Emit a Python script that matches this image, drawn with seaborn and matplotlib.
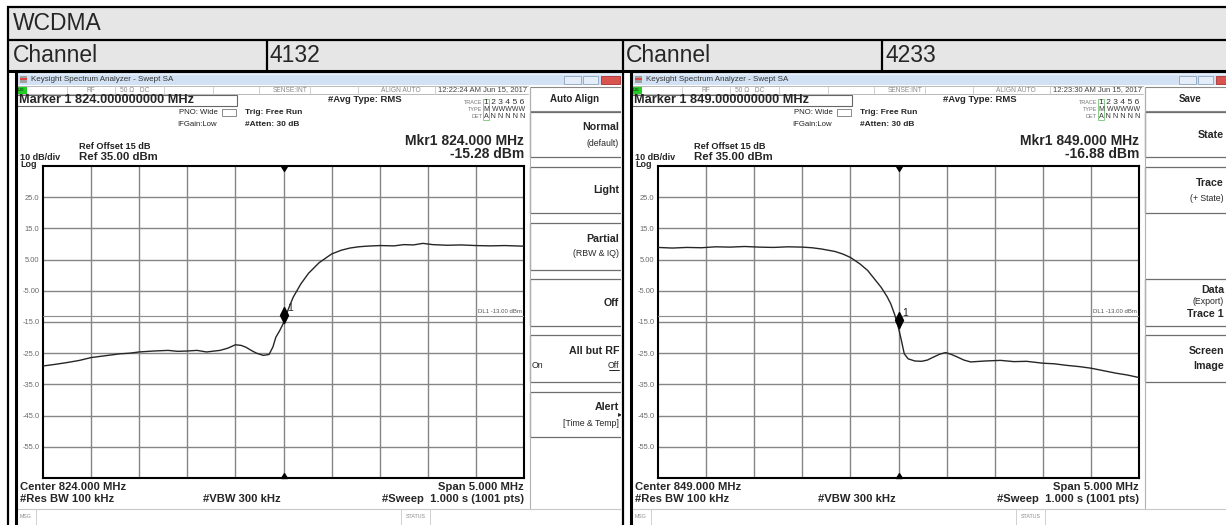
import matplotlib
matplotlib.use("Agg")
import matplotlib.pyplot as plt
import seaborn as sns
from matplotlib.patches import Rectangle
from matplotlib.lines import Line2D
from matplotlib.path import Path
from matplotlib.transforms import Bbox, TransformedBbox

W, H = 1226, 525

# ---- data ----
table_title = "WCDMA"
channel_label = "Channel"
channels = ["4132", "4233"]
center_freqs = [824.0, 849.0]
marker_levels = [-15.28, -16.88]
timestamps = ["12:22:24 AM Jun 15, 2017", "12:23:30 AM Jun 15, 2017"]
span_mhz = 5.0
ref_level = 35.0
bottom_level = -65.0
display_line = -13.0

trace1_freq = [821.50, 821.62, 821.75, 821.88, 822.00, 822.15, 822.30, 822.40, 822.50,
               822.65, 822.80, 822.90, 823.00, 823.10, 823.20, 823.34, 823.42, 823.50,
               823.56, 823.61, 823.67, 823.72, 823.79, 823.85, 823.89, 823.92, 823.96,
               824.00, 824.05, 824.10, 824.18, 824.26, 824.37, 824.50, 824.60, 824.69,
               824.78, 824.86, 825.00, 825.15, 825.25, 825.35, 825.45, 825.55, 825.70,
               825.85, 826.00, 826.15, 826.30, 826.50]
trace1_level = [-29.1, -28.6, -28.0, -27.3, -26.4, -25.8, -25.2, -25.0, -24.6,
                -24.3, -24.1, -24.4, -24.3, -24.1, -24.6, -24.1, -23.4, -22.3,
                -22.5, -23.1, -24.2, -25.0, -25.7, -25.4, -23.0, -19.9, -17.8,
                -15.3, -10.9, -7.1, -2.8, 0.6, 4.0, 6.8, 8.0, 8.7,
                9.1, 9.3, 9.5, 9.4, 9.8, 9.7, 10.2, 9.8, 9.6,
                9.7, 9.5, 9.4, 9.5, 9.3]

trace2_freq = [846.50, 846.65, 846.80, 846.95, 847.10, 847.25, 847.40, 847.55, 847.70,
               847.85, 848.00, 848.10, 848.20, 848.34, 848.42, 848.50, 848.60, 848.68,
               848.75, 848.82, 848.88, 848.92, 848.96, 849.00, 849.03, 849.06, 849.10,
               849.17, 849.24, 849.30, 849.36, 849.43, 849.49, 849.55, 849.61, 849.68,
               849.75, 849.90, 850.06, 850.20, 850.33, 850.50, 850.62, 850.75, 850.88,
               851.00, 851.13, 851.26, 851.38, 851.50]
trace2_level = [8.9, 8.7, 8.9, 8.8, 9.1, 9.0, 9.2, 9.0, 8.9,
                9.1, 9.0, 8.8, 8.4, 7.6, 6.8, 5.7, 3.6, 1.5,
                -1.2, -3.9, -6.8, -9.2, -12.6, -16.9, -20.9, -25.2, -26.8,
                -27.5, -27.6, -27.2, -26.3, -25.3, -24.8, -25.4, -26.2, -27.2,
                -27.8, -27.5, -27.3, -27.7, -27.6, -28.2, -28.4, -28.9, -29.3,
                -29.8, -30.6, -31.4, -32.0, -32.8]

traces = [(trace1_freq, trace1_level), (trace2_freq, trace2_level)]

y_grid = [25, 15, 5, -5, -15, -25, -35, -45, -55]
y_grid_labels = ["25.0", "15.0", "5.00", "-5.00", "-15.0", "-25.0", "-35.0", "-45.0", "-55.0"]
x_grid_steps = [0.5, 1.0, 1.5, 2.0, 2.5, 3.0, 3.5, 4.0, 4.5]

panel_headers = ["Auto Align", "Save"]
panel_keys = [
    [[("Normal", True), ("(default)", False)],
     [("Light", True)],
     [("Partial", True), ("(RBW & IQ)", False)],
     [("Off", True)],
     [("All but RF", True), ("On|Off", False)],
     [("Alert", True), ("[Time & Temp]", False)]],
    [[("State", True)],
     [("Trace", True), ("(+ State)", False)],
     None,
     [("Data", True), ("(Export)", False), ("Trace 1", True)],
     [("Screen", True), ("Image", True)],
     None],
]

# ---- layout (pixels) ----
SCREEN_DX = 615
SLOTS = [(112, 157), (167, 213), (223, 270), (279, 326), (335, 382), (392, 437)]
KEY_RIGHT = [89, 79]

sns.set_style("white")
plt.rcParams["font.family"] = ["Liberation Sans", "DejaVu Sans"]

fig = plt.figure(figsize=(W / 100, H / 100), dpi=100)
fig.patch.set_facecolor("white")


def fbox(x0, y0, x1, y1):
    return TransformedBbox(Bbox.from_extents(x0 / W, 1 - y1 / H, x1 / W, 1 - y0 / H), fig.transFigure)


def txt(x, y, s, clip=None, **kw):
    kw.setdefault("va", "center")
    t = fig.text(x / W, 1 - y / H, s, **kw)
    if clip is not None:
        t.set_clip_box(clip)
        t.set_clip_on(True)
    return t


def rect(x0, y0, x1, y1, clip=None, **kw):
    r = Rectangle((x0 / W, 1 - y1 / H), (x1 - x0) / W, (y1 - y0) / H,
                  transform=fig.transFigure, **kw)
    fig.add_artist(r)
    if clip is not None:
        r.set_clip_box(clip)
        r.set_clip_on(True)
    return r


def line(x0, y0, x1, y1, clip=None, **kw):
    ln = Line2D([x0 / W, x1 / W], [1 - y0 / H, 1 - y1 / H], transform=fig.transFigure, **kw)
    fig.add_artist(ln)
    if clip is not None:
        ln.set_clip_box(clip)
        ln.set_clip_on(True)
    return ln


pin_diamond = Path([(0, 0), (0.5, 1), (0, 2), (-0.5, 1), (0, 0)],
                   [Path.MOVETO, Path.LINETO, Path.LINETO, Path.LINETO, Path.CLOSEPOLY])
tri_down = Path([(-1, 0), (1, 0), (0, -1.6), (-1, 0)],
                [Path.MOVETO, Path.LINETO, Path.LINETO, Path.CLOSEPOLY])
tri_up = Path([(-1, 0), (1, 0), (0, 1.6), (-1, 0)],
              [Path.MOVETO, Path.LINETO, Path.LINETO, Path.CLOSEPOLY])


def draw_screen(i):
    ox = i * SCREEN_DX
    clip = fbox(17 + ox, 72, 621 + ox, 525)
    cf = center_freqs[i]
    mkr = marker_levels[i]
    c = dict(clip=clip)

    # title bar
    rect(17 + ox, 73, 640 + ox, 85, facecolor="#d2e2f4", edgecolor="none", **c)
    line(17 + ox, 73.5, 640 + ox, 73.5, color="#e8f0fa", lw=0.8, **c)
    rect(20 + ox, 76, 27 + ox, 83, facecolor="#a0a0a0", edgecolor="none", **c)
    rect(20 + ox, 78.5, 27 + ox, 80, facecolor="#d44", edgecolor="none", **c)
    txt(31 + ox, 79.5, "Keysight Spectrum Analyzer - Swept SA", fontsize=5.8, color="#333333", **c)
    rect(564 + ox, 76, 581 + ox, 83.5, facecolor="#e4edf8", edgecolor="#8ea3c0", lw=0.6, **c)
    rect(583 + ox, 76, 598 + ox, 83.5, facecolor="#e4edf8", edgecolor="#8ea3c0", lw=0.6, **c)
    rect(601 + ox, 76, 620 + ox, 83.5, facecolor="#d9534f", edgecolor="#a33", lw=0.6, **c)

    # status row
    line(17 + ox, 86, 528 + ox, 86, color="#b8b8b8", lw=0.7, **c)
    line(17 + ox, 93.5, 528 + ox, 93.5, color="#b8b8b8", lw=0.7, **c)
    rect(17 + ox, 86, 27 + ox, 93.5, facecolor="#22cc22", edgecolor="none", **c)
    txt(18 + ox, 90, "LXI", fontsize=3.2, color="#111111", **c)
    for xd in [67, 115, 164, 213, 259, 310, 358, 435]:
        line(xd + ox, 86, xd + ox, 93.5, color="#c8c8c8", lw=0.6, **c)
    txt(91 + ox, 90, "RF", fontsize=4.8, color="#8a8a8a", ha="center", **c)
    txt(120 + ox, 90, "50 \u03a9   DC", fontsize=4.8, color="#8a8a8a", **c)
    txt(308 + ox, 90, "SENSE:INT", fontsize=4.8, color="#8a8a8a", ha="right", **c)
    txt(421 + ox, 90, "ALIGN AUTO", fontsize=4.8, color="#8a8a8a", ha="right", **c)
    txt(438 + ox, 90, timestamps[i], fontsize=5.5, color="#444444", **c)

    # marker box and settings
    rect(17 + ox, 94.5, 237 + ox, 105.5, facecolor="white", edgecolor="#666666", lw=0.8, **c)
    txt(19 + ox, 100, f"Marker 1 {cf:.9f} MHz", fontsize=9.2, fontweight="bold", **c)
    txt(218 + ox, 113, "PNO: Wide", fontsize=5.6, ha="right", color="#222222", **c)
    rect(222 + ox, 109, 236 + ox, 116, facecolor="white", edgecolor="#777777", lw=0.6, **c)
    txt(177 + ox, 124, "IFGain:Low", fontsize=5.6, color="#222222", **c)
    txt(245 + ox, 113, "Trig: Free Run", fontsize=6.0, fontweight="bold", **c)
    txt(245 + ox, 124, "#Atten: 30 dB", fontsize=6.0, fontweight="bold", **c)
    txt(328 + ox, 100, "#Avg Type: RMS", fontsize=6.8, fontweight="bold", **c)
    txt(482 + ox, 102, "TRACE", fontsize=4.0, color="#777777", ha="right", **c)
    txt(482 + ox, 109.5, "TYPE", fontsize=4.0, color="#777777", ha="right", **c)
    txt(482 + ox, 117, "DET", fontsize=4.0, color="#777777", ha="right", **c)
    rect(483 + ox, 98.5, 489 + ox, 120, facecolor="none", edgecolor="#7ac27a", lw=0.6, **c)
    txt(484 + ox, 102, "1 2 3 4 5 6", fontsize=6.1, color="#333333", **c)
    txt(484 + ox, 109.5, "M WWWWW", fontsize=5.0, color="#333333", **c)
    txt(484 + ox, 117, "A N N N N N", fontsize=5.2, color="#333333", **c)

    # reference level block
    txt(79 + ox, 146, "Ref Offset 15 dB", fontsize=6.6, fontweight="bold", color="#222222", **c)
    txt(20 + ox, 157, "10 dB/div", fontsize=6.5, fontweight="bold", **c)
    txt(79 + ox, 157, f"Ref {ref_level:.2f} dBm", fontsize=8.2, fontweight="bold", **c)
    txt(20 + ox, 164.5, "Log", fontsize=6.5, fontweight="bold", **c)
    txt(524 + ox, 141, f"Mkr1 {cf:.3f} MHz", fontsize=10, fontweight="bold", ha="right", **c)
    txt(524 + ox, 153.5, f"{mkr:.2f} dBm", fontsize=10, fontweight="bold", ha="right", **c)

    # bottom annotations
    txt(20 + ox, 487, f"Center {cf:.3f} MHz", fontsize=8.1, fontweight="bold", **c)
    txt(20 + ox, 499.5, "#Res BW 100 kHz", fontsize=8.1, fontweight="bold", **c)
    txt(203 + ox, 499.5, "#VBW 300 kHz", fontsize=8.1, fontweight="bold", **c)
    txt(524 + ox, 487, f"Span {span_mhz:.3f} MHz", fontsize=8.1, fontweight="bold", ha="right", **c)
    txt(524 + ox, 499.5, "#Sweep  1.000 s (1001 pts)", fontsize=8.1, fontweight="bold", ha="right", **c)
    line(17 + ox, 508.5, 640 + ox, 508.5, color="#c8c8c8", lw=0.8, **c)
    txt(20 + ox, 517, "MSG", fontsize=3.8, color="#8a8a8a", **c)
    line(36 + ox, 509, 36 + ox, 525, color="#d0d0d0", lw=0.7, **c)
    line(401 + ox, 509, 401 + ox, 525, color="#d0d0d0", lw=0.7, **c)
    line(430 + ox, 509, 430 + ox, 525, color="#d0d0d0", lw=0.7, **c)
    txt(415.5 + ox, 517, "STATUS", fontsize=3.8, color="#8a8a8a", ha="center", **c)

    # soft-key panel
    px0 = 530 + ox
    kr = px0 + KEY_RIGHT[i]
    line(px0, 87, px0, 508, color="#b0b0b0", lw=0.8, **c)
    rect(px0, 87.5, px0 + 110, 111, facecolor="white", edgecolor="#8a8a8a", lw=0.8, **c)
    txt(px0 + 45, 99, panel_headers[i], fontsize=7, fontweight="bold", ha="center", **c)
    for (y0, y1), key in zip(SLOTS, panel_keys[i]):
        if key is None:
            continue
        rect(px0, y0, px0 + 110, y1, facecolor="white", edgecolor="#6f6f6f", lw=0.9, **c)
        if len(key) == 1:
            ys = [(y0 + y1) / 2]
        elif len(key) == 2:
            ys = [y0 + 15.5, y0 + 31]
        else:
            ys = [y0 + 11, y0 + 23, y0 + 35]
        for (s, bold), yy in zip(key, ys):
            if s == "On|Off":
                txt(px0 + 2, yy, "On", fontsize=6.3, **c)
                txt(kr, yy, "Off", fontsize=6.3, ha="right", **c)
                line(kr - 10, yy + 4, kr, yy + 4, color="black", lw=0.6, **c)
                continue
            txt(kr, yy, s, fontsize=7.7 if bold else 6.3,
                fontweight="bold" if bold else "normal", ha="right", **c)
        if key[0][0] == "Alert":
            txt(kr - 1, y0 + 22, "\u25b8", fontsize=6, family="DejaVu Sans", **c)

    # plot area
    ax = fig.add_axes([(43 + ox) / W, 1 - 478 / H, 481 / W, 312 / H])
    f, lv = traces[i]
    sns.lineplot(x=f, y=lv, ax=ax, color="#262626", linewidth=1.0, estimator=None, zorder=4)
    x_left = cf - span_mhz / 2
    ax.set_xlim(x_left, cf + span_mhz / 2)
    ax.set_ylim(bottom_level, ref_level)
    ax.set_xticks([x_left + s for s in x_grid_steps])
    ax.set_xticklabels([])
    ax.set_yticks(y_grid)
    ax.set_yticklabels(y_grid_labels)
    ax.tick_params(axis="both", length=0)
    ax.tick_params(axis="y", labelsize=5.4, labelcolor="#6a6a6a", pad=2.5)
    ax.grid(True, color="#858585", linewidth=1.0)
    ax.set_xlabel("")
    ax.set_ylabel("")
    for sp in ax.spines.values():
        sp.set_visible(True)
        sp.set_color("black")
        sp.set_linewidth(1.5)
    ax.axhline(display_line, color="#8c8c8c", linewidth=0.8, zorder=3)
    ax.text(cf + span_mhz / 2 - 0.02, display_line + 0.7, "DL1 -13.00 dBm", ha="right",
            va="bottom", fontsize=4.3, color="#555555")
    ax.plot([cf], [mkr], marker=pin_diamond, markersize=23, color="black",
            linestyle="none", zorder=6, clip_on=False)
    ax.annotate("1", xy=(cf, mkr), xytext=(5, 10.8), textcoords="offset points",
                ha="center", va="center", fontsize=7.5, zorder=6)
    ax.plot([cf], [ref_level], marker=tri_down, markersize=7, color="black",
            linestyle="none", zorder=6, clip_on=False)
    ax.plot([cf], [bottom_level], marker=tri_up, markersize=7, color="black",
            linestyle="none", zorder=6, clip_on=False)
    return ax


for k in range(2):
    draw_screen(k)

# ---- surrounding table ----
rect(8, 7, W + 5, 71, facecolor="#e7e6e6", edgecolor="none", zorder=0)
txt(13, 24, table_title, fontsize=16.5, zorder=5)
txt(13, 56, channel_label, fontsize=16.5, zorder=5)
txt(270, 56, channels[0], fontsize=16.5, zorder=5)
txt(626, 56, channel_label, fontsize=16.5, zorder=5)
txt(885, 56, channels[1], fontsize=16.5, zorder=5)

tb = dict(color="black", zorder=10, solid_capstyle="butt")
line(7, 7, W, 7, lw=1.6, **tb)
line(7, 40, W, 40, lw=1.6, **tb)
line(7, 71, W, 71, lw=2.2, **tb)
line(8, 6, 8, H, lw=1.6, **tb)
line(267, 40, 267, 71, lw=1.6, **tb)
line(623, 40, 623, H, lw=1.6, **tb)
line(882, 40, 882, 71, lw=1.6, **tb)
line(16, 71, 16, H, lw=2.2, **tb)
line(631, 71, 631, H, lw=2.2, **tb)

fig.savefig("out.png", dpi=100, facecolor="white")
